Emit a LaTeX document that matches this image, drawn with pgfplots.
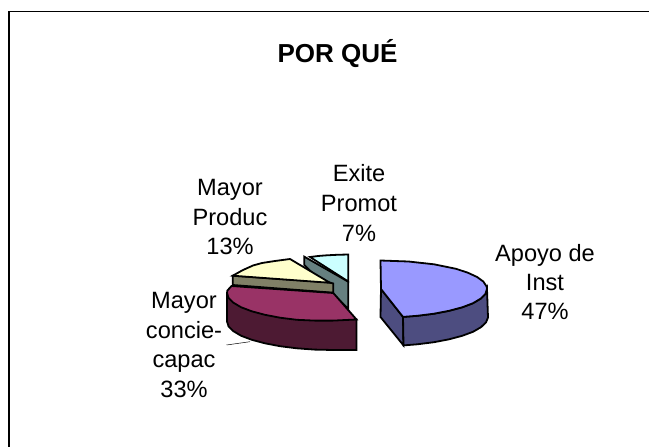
\documentclass[border=0pt]{standalone}
\usepackage{fontspec}
\setmainfont{Liberation Sans}
\usepackage{pgfplots}
\pgfplotsset{compat=1.18}
\definecolor{blueT}{HTML}{9999FF}\definecolor{blueS}{HTML}{4D4D80}
\definecolor{crimT}{HTML}{993366}\definecolor{crimS}{HTML}{4D1A33}
\definecolor{yelT}{HTML}{FFFFCC}\definecolor{yelS}{HTML}{808066}
\definecolor{cyaT}{HTML}{CCFFFF}\definecolor{cyaS}{HTML}{668080}
\newcommand{\lab}{\fontsize{23.6pt}{29.5pt}\selectfont}
\begin{document}
\begin{tikzpicture}[x=1pt,y=1pt]
\begin{axis}[scale only axis,width=649pt,height=447pt,xmin=0,xmax=649,ymin=0,ymax=447,y dir=reverse,hide axis,
  every axis plot/.append style={line width=1.8pt,line join=miter,draw=black}]
\path (axis cs:0,0) rectangle (axis cs:649,447);
% frame
\addplot[black,line width=1.2pt] coordinates {(9,447)(9,11.5)(649,11.5)};
% leader
\addplot[black,line width=0.5pt] coordinates {(226.5,345)(250,341.7)};
% cyan side and top
\addplot[fill=cyaS] coordinates {(304.3,256.7)(348.3,281.7)(348.3,309)(304.3,265)} -- cycle;
\addplot[fill=cyaT] coordinates {(310,257)(318,256)(327,255.3)(337,254.8)(348.3,254.5)(348.3,281.5)} -- cycle;
% yellow side and top
\addplot[fill=yelS] coordinates {(232.7,275.7)(329,282.3)(333.3,283.5)(333.3,292.7)(232.7,285)} -- cycle;
\addplot[fill=yelT] coordinates {(232.7,275.7)(243,270)(253,265.5)(262,263)(275,261)(290,259)(330,282.8)} -- cycle;
% crimson side and top
\addplot[fill=crimS] coordinates {(227,293)(227,321.5)(228.6,326.5)(233.4,331.2)(241.2,335.8)(251.8,339.8)(264.9,343.3)(280,346.2)(296.7,348.3)(314.6,349.6)(333,350)(356.5,350)(356.5,319.5)} -- cycle;
\addplot[fill=crimT] coordinates {(333.3,293)(231.5,286)(227.4,290.5)(227,293)(228.6,298)(233.4,302.7)(241.2,307.3)(251.8,311.3)(264.9,314.8)(280,317.7)(296.7,319.8)(314.6,320.6)(333,320.6)(356.5,319.5)} -- cycle;
% blue side and top
\addplot[fill=blueS] coordinates {(381,289)(403,316.9)(403.5,345.4)(380.5,317)} -- cycle;
\addplot[fill=blueS] coordinates {(403,316.9)(417.3,315.8)(434,313.7)(449.1,310.8)(462.2,307.3)(472.8,303.3)(480.6,298.7)(485.4,293.9)(487,289)(488,317.5)(486,322.4)(481,327.2)(473,331.8)(462.2,335.8)(449.1,339.3)(434,342.2)(417.3,344.3)(403.5,345.4)} -- cycle;
\addplot[fill=blueT] coordinates {(380.5,260.5)(408.4,261.5)(434,264.3)(456,268.8)(467.8,272.7)(477.1,277)(483.4,281.6)(486.6,286.5)(487,289)(485.4,293.9)(480.6,298.7)(472.8,303.3)(462.2,307.3)(449.1,310.8)(434,313.7)(417.3,315.8)(403,316.9)(381,289)} -- cycle;
\node[font=\bfseries\fontsize{26pt}{30pt}\selectfont,anchor=base] at (axis cs:337.5,63) {POR QUÉ};
\node[font=\lab,anchor=base] at (axis cs:545,261) {Apoyo de};
\node[font=\lab,anchor=base] at (axis cs:545,290) {Inst};
\node[font=\lab,anchor=base] at (axis cs:545,319) {47\%};
\node[font=\lab,anchor=base] at (axis cs:359,181) {Exite};
\node[font=\lab,anchor=base] at (axis cs:359,211) {Promot};
\node[font=\lab,anchor=base] at (axis cs:359,241) {7\%};
\node[font=\lab,anchor=base] at (axis cs:230,195) {Mayor};
\node[font=\lab,anchor=base] at (axis cs:230,225) {Produc};
\node[font=\lab,anchor=base] at (axis cs:230,254) {13\%};
\node[font=\lab,anchor=base] at (axis cs:184,308) {Mayor};
\node[font=\lab,anchor=base] at (axis cs:184,338) {concie-};
\node[font=\lab,anchor=base] at (axis cs:184,367) {capac};
\node[font=\lab,anchor=base] at (axis cs:184,397) {33\%};
\end{axis}
\end{tikzpicture}
\end{document}
